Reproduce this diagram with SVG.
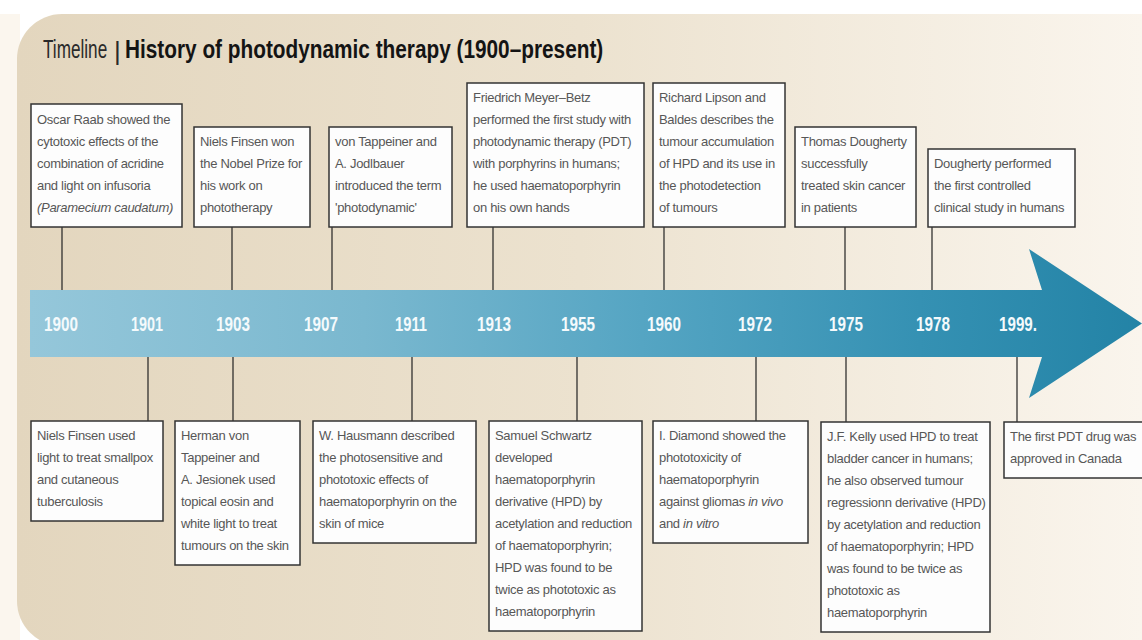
<svg xmlns="http://www.w3.org/2000/svg" width="1142" height="640" viewBox="0 0 1142 640">
<defs>
<linearGradient id="bg" gradientUnits="userSpaceOnUse" x1="17" y1="0" x2="1142" y2="0">
<stop offset="0" stop-color="#e3d6be"/>
<stop offset="0.5" stop-color="#ece2cf"/>
<stop offset="1" stop-color="#faf5ed"/>
</linearGradient>
<linearGradient id="ar" gradientUnits="userSpaceOnUse" x1="30" y1="0" x2="1142" y2="0">
<stop offset="0" stop-color="#95c7da"/>
<stop offset="0.3" stop-color="#7ab8cf"/>
<stop offset="0.55" stop-color="#55a5c3"/>
<stop offset="0.8" stop-color="#3591b3"/>
<stop offset="1" stop-color="#2383a6"/>
</linearGradient>
<style>
.box{fill:#fdfdfd;stroke:#333;stroke-width:1.5}
.t{font-family:"Liberation Sans",Arial,sans-serif;font-size:13px;letter-spacing:-0.3px;fill:#575757}
.i{font-style:italic}
.yr{font-family:"Liberation Sans",Arial,sans-serif;font-size:20px;font-weight:bold;fill:#f4fafc;text-anchor:middle}
.ttl{font-family:"Liberation Sans",Arial,sans-serif;font-size:26px}
.c line{stroke:#222;stroke-width:1.2}
</style>
</defs>
<rect x="0" y="0" width="1142" height="640" fill="#ffffff"/>
<rect x="0" y="14" width="20" height="626" fill="#fbf6ee"/>
<rect x="17" y="14" width="1200" height="632" rx="45" ry="45" fill="url(#bg)"/>

<g id="title">
<text class="ttl" transform="translate(43,58) scale(0.66,1)" x="0" y="0" fill="#2a2a2a">Timeline</text>
<text class="ttl" x="114" y="60" fill="#2a2a2a">|</text>
<text class="ttl" transform="translate(125,58) scale(0.8,1)" x="0" y="0" font-weight="bold" fill="#141414">History of photodynamic therapy (1900–present)</text>
</g>

<g id="connectors" class="c">
<line x1="62" y1="227" x2="62" y2="290"/>
<line x1="232" y1="227" x2="232" y2="290"/>
<line x1="332" y1="227" x2="332" y2="290"/>
<line x1="493" y1="227" x2="493" y2="290"/>
<line x1="664" y1="227" x2="664" y2="290"/>
<line x1="845" y1="227" x2="845" y2="290"/>
<line x1="932" y1="227" x2="932" y2="290"/>
<line x1="148" y1="357" x2="148" y2="421"/>
<line x1="233" y1="357" x2="233" y2="421"/>
<line x1="412" y1="357" x2="412" y2="421"/>
<line x1="577" y1="357" x2="577" y2="421"/>
<line x1="756" y1="357" x2="756" y2="421"/>
<line x1="846" y1="357" x2="846" y2="422"/>
<line x1="1017" y1="357" x2="1017" y2="422"/>
</g>

<g id="arrow">
<path d="M30,290 H1042 L1029,249 L1142,323.5 L1029,398 L1042,357 H30 Z" fill="url(#ar)"/>
<text class="yr" x="61" y="331" textLength="34" lengthAdjust="spacingAndGlyphs">1900</text>
<text class="yr" x="147" y="331" textLength="32" lengthAdjust="spacingAndGlyphs">1901</text>
<text class="yr" x="233" y="331" textLength="34" lengthAdjust="spacingAndGlyphs">1903</text>
<text class="yr" x="321" y="331" textLength="34" lengthAdjust="spacingAndGlyphs">1907</text>
<text class="yr" x="411" y="331" textLength="32" lengthAdjust="spacingAndGlyphs">1911</text>
<text class="yr" x="494" y="331" textLength="34" lengthAdjust="spacingAndGlyphs">1913</text>
<text class="yr" x="578" y="331" textLength="34" lengthAdjust="spacingAndGlyphs">1955</text>
<text class="yr" x="664" y="331" textLength="34" lengthAdjust="spacingAndGlyphs">1960</text>
<text class="yr" x="755" y="331" textLength="34" lengthAdjust="spacingAndGlyphs">1972</text>
<text class="yr" x="846" y="331" textLength="34" lengthAdjust="spacingAndGlyphs">1975</text>
<text class="yr" x="933" y="331" textLength="34" lengthAdjust="spacingAndGlyphs">1978</text>
<text class="yr" x="1018" y="331" textLength="38" lengthAdjust="spacingAndGlyphs">1999.</text>
</g>

<g id="n1900">
<rect class="box" x="31" y="104" width="151" height="123"/>
<text class="t" x="37" y="124">Oscar Raab showed the<tspan x="37" dy="22">cytotoxic effects of the</tspan><tspan x="37" dy="22">combination of acridine</tspan><tspan x="37" dy="22">and light on infusoria</tspan><tspan x="37" dy="22" class="i">(Paramecium caudatum)</tspan></text>
</g>
<g id="n1903top">
<rect class="box" x="194" y="127" width="116" height="100"/>
<text class="t" x="200" y="146">Niels Finsen won<tspan x="200" dy="22">the Nobel Prize for</tspan><tspan x="200" dy="22">his work on</tspan><tspan x="200" dy="22">phototherapy</tspan></text>
</g>
<g id="n1907">
<rect class="box" x="329" y="127" width="123" height="100"/>
<text class="t" x="335" y="146">von Tappeiner and<tspan x="335" dy="22">A. Jodlbauer</tspan><tspan x="335" dy="22">introduced the term</tspan><tspan x="335" dy="22">'photodynamic'</tspan></text>
</g>
<g id="n1913">
<rect class="box" x="467" y="83" width="177" height="144"/>
<text class="t" x="473" y="102">Friedrich Meyer–Betz<tspan x="473" dy="22">performed the first study with</tspan><tspan x="473" dy="22">photodynamic therapy (PDT)</tspan><tspan x="473" dy="22">with porphyrins in humans;</tspan><tspan x="473" dy="22">he used haematoporphyrin</tspan><tspan x="473" dy="22">on his own hands</tspan></text>
</g>
<g id="n1960">
<rect class="box" x="653" y="83" width="132" height="144"/>
<text class="t" x="659" y="102">Richard Lipson and<tspan x="659" dy="22">Baldes describes the</tspan><tspan x="659" dy="22">tumour accumulation</tspan><tspan x="659" dy="22">of HPD and its use in</tspan><tspan x="659" dy="22">the photodetection</tspan><tspan x="659" dy="22">of tumours</tspan></text>
</g>
<g id="n1975top">
<rect class="box" x="795" y="127" width="121" height="100"/>
<text class="t" x="801" y="146">Thomas Dougherty<tspan x="801" dy="22">successfully</tspan><tspan x="801" dy="22">treated skin cancer</tspan><tspan x="801" dy="22">in patients</tspan></text>
</g>
<g id="n1978">
<rect class="box" x="928" y="149" width="147" height="78"/>
<text class="t" x="934" y="168">Dougherty performed<tspan x="934" dy="22">the first controlled</tspan><tspan x="934" dy="22">clinical study in humans</tspan></text>
</g>

<g id="n1901">
<rect class="box" x="31" y="421" width="132" height="100"/>
<text class="t" x="37" y="440">Niels Finsen used<tspan x="37" dy="22">light to treat smallpox</tspan><tspan x="37" dy="22">and cutaneous</tspan><tspan x="37" dy="22">tuberculosis</tspan></text>
</g>
<g id="n1903bottom">
<rect class="box" x="175" y="421" width="125" height="144"/>
<text class="t" x="181" y="440">Herman von<tspan x="181" dy="22">Tappeiner and</tspan><tspan x="181" dy="22">A. Jesionek used</tspan><tspan x="181" dy="22">topical eosin and</tspan><tspan x="181" dy="22">white light to treat</tspan><tspan x="181" dy="22">tumours on the skin</tspan></text>
</g>
<g id="n1911">
<rect class="box" x="313" y="421" width="163" height="122"/>
<text class="t" x="319" y="440">W. Hausmann described<tspan x="319" dy="22">the photosensitive and</tspan><tspan x="319" dy="22">phototoxic effects of</tspan><tspan x="319" dy="22">haematoporphyrin on the</tspan><tspan x="319" dy="22">skin of mice</tspan></text>
</g>
<g id="n1955">
<rect class="box" x="489" y="421" width="153" height="210"/>
<text class="t" x="495" y="440">Samuel Schwartz<tspan x="495" dy="22">developed</tspan><tspan x="495" dy="22">haematoporphyrin</tspan><tspan x="495" dy="22">derivative (HPD) by</tspan><tspan x="495" dy="22">acetylation and reduction</tspan><tspan x="495" dy="22">of haematoporphyrin;</tspan><tspan x="495" dy="22">HPD was found to be</tspan><tspan x="495" dy="22">twice as phototoxic as</tspan><tspan x="495" dy="22">haematoporphyrin</tspan></text>
</g>
<g id="n1972">
<rect class="box" x="653" y="421" width="155" height="122"/>
<text class="t" x="659" y="440">I. Diamond showed the<tspan x="659" dy="22">phototoxicity of</tspan><tspan x="659" dy="22">haematoporphyrin</tspan><tspan x="659" dy="22">against gliomas <tspan class="i">in vivo</tspan></tspan><tspan x="659" dy="22">and <tspan class="i">in vitro</tspan></tspan></text>
</g>
<g id="n1975bottom">
<rect class="box" x="821" y="422" width="169" height="210"/>
<text class="t" x="827" y="441">J.F. Kelly used HPD to treat<tspan x="827" dy="22">bladder cancer in humans;</tspan><tspan x="827" dy="22">he also observed tumour</tspan><tspan x="827" dy="22">regressionn derivative (HPD)</tspan><tspan x="827" dy="22">by acetylation and reduction</tspan><tspan x="827" dy="22">of haematoporphyrin; HPD</tspan><tspan x="827" dy="22">was found to be twice as</tspan><tspan x="827" dy="22">phototoxic as</tspan><tspan x="827" dy="22">haematoporphyrin</tspan></text>
</g>
<g id="n1999">
<rect class="box" x="1004" y="422" width="140" height="56"/>
<text class="t" x="1010" y="441">The first PDT drug was<tspan x="1010" dy="22">approved in Canada</tspan></text>
</g>
</svg>
